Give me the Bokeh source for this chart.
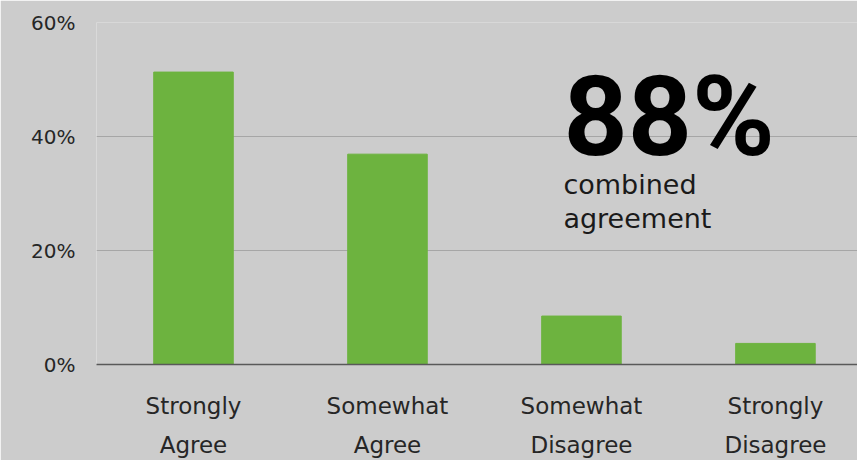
from bokeh.plotting import figure
from bokeh.models import Range1d, FixedTicker, PrintfTickFormatter, Label, ColumnDataSource
from bokeh.embed import file_html
from bokeh.resources import INLINE

categories = ["Strongly\nAgree", "Somewhat\nAgree", "Somewhat\nDisagree", "Strongly\nDisagree"]
values = [51.3, 36.9, 8.5, 3.7]
y_ticks = [0, 20, 40, 60]

BG = "#cccccc"
GREEN = "#6db33f"
TXT = "#262626"

xs = [i + 0.5 for i in range(len(categories))]
src = ColumnDataSource(dict(x=xs, top=values))

p = figure(width=857, height=460, output_backend="svg", toolbar_location=None,
           x_range=Range1d(0, 3.923), y_range=Range1d(0, 60),
           min_border_left=96, min_border_right=0, min_border_top=22, min_border_bottom=93)
p.background_fill_color = BG
p.border_fill_color = BG
p.outline_line_color = None

p.vbar(x="x", top="top", width=0.41, bottom=0, source=src, color=GREEN)

p.xgrid.grid_line_color = None
p.ygrid.ticker = FixedTicker(ticks=y_ticks)
p.ygrid.grid_line_color = "#a6a6a6"
p.ygrid.grid_line_width = 1

p.yaxis.ticker = FixedTicker(ticks=y_ticks)
p.yaxis.formatter = PrintfTickFormatter(format="%d%%")
p.yaxis.axis_line_color = None
p.yaxis.major_tick_line_color = None
p.yaxis.minor_tick_line_color = None
p.yaxis.major_tick_out = 0
p.yaxis.major_label_standoff = 21
p.yaxis.major_label_text_font = "DejaVu Sans"
p.yaxis.major_label_text_font_size = "20px"
p.yaxis.major_label_text_color = TXT

p.xaxis.ticker = FixedTicker(ticks=xs)
p.xaxis.major_label_overrides = {x: c for x, c in zip(xs, categories)}
p.xaxis.axis_line_color = "#595959"
p.xaxis.axis_line_width = 1.5
p.xaxis.major_tick_line_color = None
p.xaxis.minor_tick_line_color = None
p.xaxis.major_tick_out = 0
p.xaxis.major_label_standoff = 28
p.xaxis.major_label_text_font = "DejaVu Sans"
p.xaxis.major_label_text_font_size = "23px"
p.xaxis.major_label_text_color = TXT
p.xaxis.major_label_text_line_height = 1.5

combined = round(values[0] + values[1])
p.add_layout(Label(x=2.407, y=43.5, text=f"{combined}%", text_font="Roboto",
                   text_font_style="bold", text_font_size="112px", text_color="#000000",
                   text_baseline="alphabetic", text_align="left"))
p.add_layout(Label(x=2.407, y=31.5, text="combined", text_font="DejaVu Sans",
                   text_font_size="27px", text_color="#1a1a1a",
                   text_baseline="alphabetic", text_align="left"))
p.add_layout(Label(x=2.407, y=25.55, text="agreement", text_font="DejaVu Sans",
                   text_font_size="27px", text_color="#1a1a1a",
                   text_baseline="alphabetic", text_align="left"))

html = file_html(p, INLINE)
html = html.replace("<body>", '<body style="margin:0;background:#cccccc">', 1)
open("out.html", "w").write(html)
